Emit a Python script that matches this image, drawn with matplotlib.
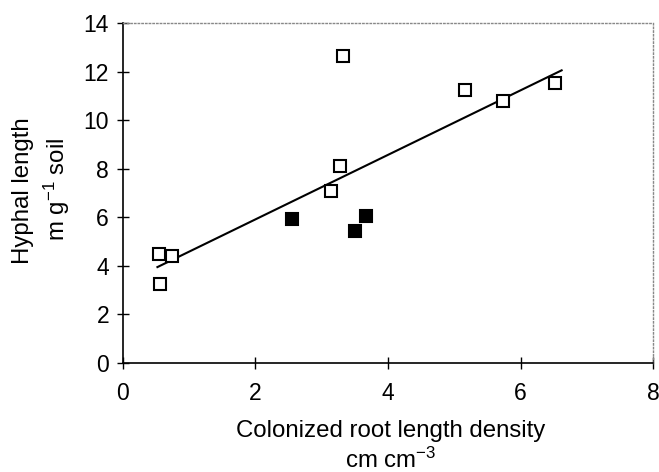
import matplotlib
matplotlib.use("Agg")
import matplotlib.pyplot as plt

plt.rcParams['font.family'] = ['Liberation Sans', 'DejaVu Sans']
plt.rcParams['mathtext.fontset'] = 'custom'
plt.rcParams['mathtext.rm'] = 'Liberation Sans'
plt.rcParams['mathtext.it'] = 'Liberation Sans'

open_x = [0.54, 0.74, 0.56, 3.14, 3.28, 3.32, 5.16, 5.74, 6.52]
open_y = [4.49, 4.40, 3.25, 7.08, 8.11, 12.63, 11.23, 10.78, 11.52]
filled_x = [2.55, 3.50, 3.67]
filled_y = [5.93, 5.43, 6.05]
fit_x = [0.52, 6.62]
fit_y = [3.95, 12.05]
xticks = [0, 2, 4, 6, 8]
yticks = [0, 2, 4, 6, 8, 10, 12, 14]

fig = plt.figure(figsize=(6.59, 4.72), dpi=100)
ax = fig.add_axes([0.1866, 0.2309, 0.8044, 0.7204])

ax.plot(fit_x, fit_y, color='black', lw=1.5, zorder=2)
ax.plot(open_x, open_y, 's', ms=8.5, mfc='white', mec='black', mew=1.5, ls='none', zorder=3)
ax.plot(filled_x, filled_y, 's', ms=8.5, mfc='black', mec='black', mew=1.5, ls='none', zorder=3)

ax.set_xlim(0, 8)
ax.set_ylim(0, 14)
ax.set_xticks(xticks)
ax.set_yticks(yticks)
ax.tick_params(direction='inout', length=8, width=1, labelsize=16.5)
ax.tick_params(axis='x', pad=10)
ax.tick_params(axis='y', pad=6)
for s in ['left', 'bottom']:
    ax.spines[s].set_linewidth(1.2)
for s in ['top', 'right']:
    ax.spines[s].set_color('#888888')
    ax.spines[s].set_linestyle(':')
    ax.spines[s].set_linewidth(1.0)

fs = 17.3
fig.text(391/659, 1 - 437/472, 'Colonized root length density', ha='center', va='baseline', fontsize=fs)
fig.text(391/659, 1 - 468/472, 'cm cm$^{-3}$', ha='center', va='baseline', fontsize=fs)
fig.text(23/659, 1 - 191/472, 'Hyphal length', rotation=90, ha='center', va='center', fontsize=fs)
fig.text(57/659, 1 - 189/472, 'm g$^{-1}$ soil', rotation=90, ha='center', va='center', fontsize=fs)

fig.savefig('out.png', dpi=100)
